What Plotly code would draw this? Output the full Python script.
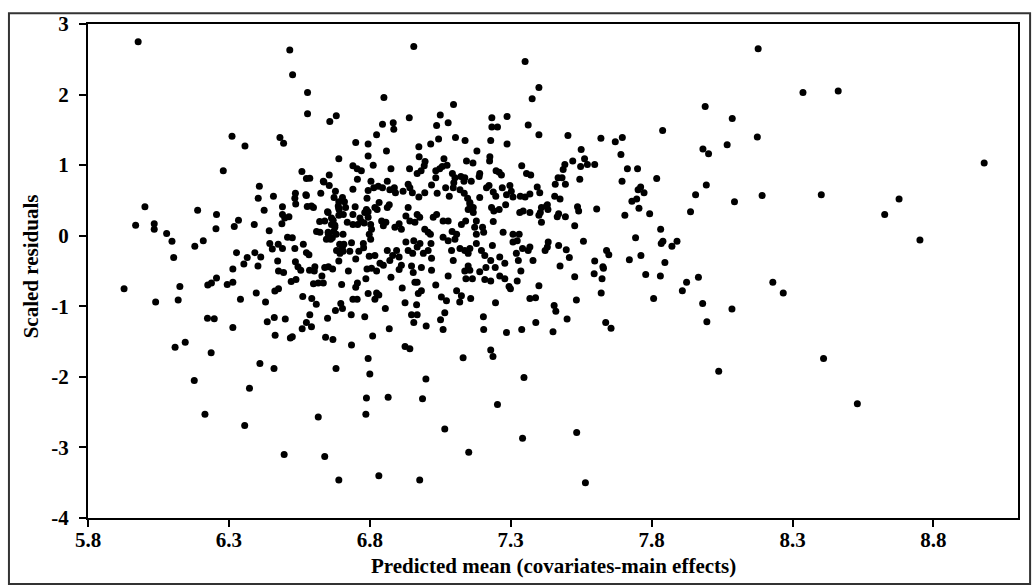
import plotly.graph_objects as go

# Predicted mean (x) and scaled residual (y) for each observation, grouped by area of the plot.
# Low predicted means (below about 6.8)
pred_low = [
    5.978, 5.969, 6.002, 6.035, 6.035, 6.079, 6.098, 6.179, 6.209, 6.189,
    6.256, 6.254, 6.28, 6.311, 6.357, 6.319, 6.334, 6.39, 6.408, 6.404,
    6.425, 6.443, 6.458, 6.481, 6.494, 6.516, 6.526, 6.579, 6.579, 6.658,
    6.681, 6.69, 6.75, 6.559, 6.575, 6.587, 6.536, 6.534, 6.537, 6.49,
    6.49, 6.498, 6.513, 6.488, 6.508, 6.525, 6.575, 6.578, 6.60, 6.626,
    6.637, 6.656, 6.656, 6.678, 6.673, 6.69, 6.71, 6.69, 6.652, 6.74,
    6.755, 6.77, 6.74, 6.756, 6.748, 6.74, 6.765, 6.611, 6.623, 6.445,
    6.454, 6.475, 6.49, 6.534, 6.564, 6.575, 6.584, 6.327, 6.365, 6.392,
    6.413, 6.473, 6.536, 6.646, 6.653, 6.672, 6.667, 6.681, 6.64, 6.67,
    6.69, 6.705, 6.70, 6.729, 6.708, 6.735, 6.761, 6.778, 6.75, 6.72,
    6.74, 6.757, 6.77, 6.78, 6.794, 6.79, 6.794, 6.794,
    5.928, 6.04, 6.12, 6.126, 6.104, 6.109, 6.145, 6.177, 6.215, 6.237,
    6.224, 6.248, 6.225, 6.238, 6.256, 6.294, 6.314, 6.314, 6.314, 6.341,
    6.353, 6.403, 6.397, 6.43, 6.436, 6.461, 6.464, 6.46, 6.41, 6.373,
    6.356, 6.496, 6.50, 6.463, 6.476, 6.476, 6.494, 6.521, 6.538, 6.545,
    6.555, 6.586, 6.603, 6.562, 6.594, 6.61, 6.587, 6.575, 6.593, 6.56,
    6.518, 6.525, 6.617, 6.64, 6.69, 6.643, 6.669, 6.68, 6.65, 6.678,
    6.697, 6.703, 6.734, 6.735, 6.74, 6.755, 6.70, 6.75, 6.756, 6.60,
    6.617, 6.635, 6.63, 6.64, 6.653, 6.668, 6.69, 6.724, 6.782, 6.794,
    6.794, 6.80, 6.788, 6.786, 6.786, 6.79,
    6.622, 6.664, 6.676, 6.693, 6.705, 6.635, 6.573, 6.703, 6.593, 6.65,
    6.664, 6.676, 6.652, 6.661, 6.688, 6.691, 6.706, 6.714, 6.782, 6.788,
    6.794, 6.605, 6.682, 6.703, 6.694, 6.777,
]
resid_low = [
    2.75, 0.15, 0.41, 0.17, 0.09, 0.03, -0.08, -0.15, -0.07, 0.36,
    0.30, 0.10, 0.92, 1.41, 1.27, 0.13, 0.22, 0.16, 0.70, 0.53,
    0.36, 0.07, 0.56, 1.39, 1.31, 2.63, 2.28, 2.03, 1.73, 1.62,
    1.70, 1.09, 1.32, 0.91, 0.81, 0.815, 0.60, 0.53, 0.45, 0.41,
    0.30, 0.25, 0.27, 0.17, -0.02, -0.03, 0.57, 0.415, 0.40, 0.60,
    0.76, 0.86, 0.71, 0.63, 0.54, 0.48, 0.48, 0.39, 0.33, 0.99,
    0.95, 0.92, 0.66, 0.80, 0.41, 0.30, 0.25, 0.06, 0.05, -0.11,
    -0.19, -0.12, -0.18, -0.18, -0.12, -0.24, -0.27, -0.24, -0.31, -0.24,
    -0.30, -0.36, -0.37, -0.05, 0.02, 0.06, -0.03, 0.02, 0.21, 0.22,
    0.29, 0.02, -0.19, -0.22, -0.12, -0.10, -0.22, -0.17, -0.33, 0.19,
    0.16, 0.16, 0.20, 0.18, 0.34, 0.53, 1.30, 1.13,
    -0.75, -0.94, -0.91, -0.72, -0.31, -1.58, -1.51, -2.05, -2.53, -1.66,
    -1.17, -1.175, -0.70, -0.67, -0.60, -0.69, -0.47, -0.66, -1.30, -0.90,
    -0.40, -0.43, -0.81, -0.94, -1.22, -1.16, -1.41, -1.88, -1.81, -2.16,
    -2.69, -3.10, -1.18, -0.785, -0.75, -0.50, -0.52, -0.65, -0.62, -0.44,
    -0.49, -0.49, -0.50, -0.86, -0.89, -0.97, -1.12, -1.23, -1.29, -1.32,
    -1.45, -1.43, -2.57, -3.13, -3.46, -1.44, -1.47, -1.88, -1.17, -1.06,
    -0.96, -1.03, -1.12, -1.55, -0.90, -0.90, -0.69, -0.73, -0.67, -0.68,
    -0.67, -0.67, -0.57, -0.45, -0.44, -0.47, -0.36, -0.50, -1.15, -0.82,
    -1.74, -1.96, -2.30, -2.53, -0.61, -0.47,
    0.20, 0.25, 0.15, -0.12, -0.22, 0.77, 0.58, 0.54, 0.42, 0.34,
    0.16, 0.12, 0.05, -0.05, 0.42, 0.37, 0.30, 0.40, 0.33, 0.37,
    0.26, -0.44, -0.21, -0.16, -0.25, -0.11,
]

# Central band, residuals above about -0.45
pred_mid_upper = [
    6.956, 7.351, 7.40, 7.376, 6.85, 7.097, 6.94, 7.05, 7.078, 7.037,
    6.845, 6.883, 6.885, 6.824, 7.233, 7.233, 7.253, 7.287, 7.362, 7.40,
    7.044, 7.104, 7.138, 7.229, 7.287, 6.859, 6.974, 7.016, 7.18, 7.226,
    7.225, 7.143, 7.166, 6.975, 6.996, 7.063, 7.074, 6.812, 6.875, 6.941,
    6.968, 6.982, 6.993, 7.034, 7.048, 7.057, 7.093, 7.102, 7.123, 7.137,
    7.134, 7.16, 7.19, 7.188, 7.248, 7.267, 7.259, 7.339, 7.356, 7.371,
    7.394, 7.368, 7.351, 7.403, 6.804, 6.794, 6.814, 6.83, 6.845, 6.862,
    6.871, 6.887, 6.891, 6.918, 6.936, 6.942, 6.951, 6.974, 6.995, 7.019,
    7.034, 7.039, 7.069, 7.082, 7.098, 7.096, 7.12, 7.135, 7.147, 7.155,
    7.167, 7.19, 7.214, 7.223, 7.238, 7.247, 7.27, 7.285, 7.297, 7.302,
    7.308, 7.334, 7.332, 7.344, 7.368, 7.405, 7.409, 7.427, 7.40, 7.409,
    6.803, 6.806, 6.798, 6.803, 6.818, 6.833, 6.826, 6.842, 6.857, 6.848,
    6.862, 6.869, 6.889, 6.904, 6.912, 6.928, 6.936, 6.942, 6.96, 6.968,
    6.977, 6.995, 7.007, 7.015, 7.025, 7.037, 7.06, 7.078, 7.092, 7.108,
    7.102, 7.125, 7.14, 7.155, 7.167, 7.149, 7.178, 7.172, 7.178, 7.20,
    7.204, 7.232, 7.24, 7.259, 7.282, 7.238, 7.273, 7.308, 7.323, 7.33,
    7.308, 7.342, 7.362, 7.368, 7.422, 7.433, 6.798, 6.818, 6.836, 6.848,
    6.862, 6.871, 6.881, 6.895, 6.904, 6.912, 6.928, 6.936, 6.952, 6.956,
    6.968, 6.978, 6.99, 7.007, 7.017, 7.019, 7.06, 7.078, 7.09, 7.096,
    7.12, 7.137, 7.149, 7.155, 7.178, 7.196, 7.208, 7.229, 7.235, 7.261,
    7.279, 7.32, 7.327, 7.379,
]
resid_mid_upper = [
    2.68, 2.47, 2.10, 1.94, 1.96, 1.86, 1.67, 1.71, 1.60, 1.56,
    1.58, 1.60, 1.51, 1.43, 1.67, 1.54, 1.54, 1.69, 1.57, 1.43,
    1.37, 1.39, 1.35, 1.35, 1.30, 1.20, 1.26, 1.30, 1.20, 1.12,
    1.06, 1.06, 1.03, 1.12, 1.05, 1.09, 1.00, 1.00, 0.95, 0.95,
    0.88, 0.92, 0.99, 0.92, 0.95, 0.98, 0.88, 0.82, 0.84, 0.82,
    0.77, 0.77, 0.88, 0.84, 0.92, 0.86, 0.90, 0.99, 0.88, 0.86,
    0.69, 0.59, 0.55, 0.61, 0.77, 0.64, 0.68, 0.70, 0.68, 0.77,
    0.65, 0.68, 0.61, 0.63, 0.73, 0.68, 0.61, 0.55, 0.61, 0.72,
    0.82, 0.60, 0.68, 0.56, 0.75, 0.68, 0.65, 0.60, 0.53, 0.47,
    0.40, 0.54, 0.68, 0.71, 0.62, 0.56, 0.68, 0.58, 0.71, 0.63,
    0.55, 0.56, 0.33, 0.35, 0.33, 0.33, 0.40, 0.42, 0.29, 0.19,
    0.16, 0.09, 0.02, -0.05, 0.40, 0.47, 0.37, 0.21, 0.19, 0.14,
    0.40, 0.44, 0.12, 0.17, 0.09, 0.28, 0.40, 0.21, 0.19, 0.30,
    0.26, 0.09, 0.05, 0.02, 0.26, 0.30, 0.21, 0.21, 0.06, 0.02,
    -0.05, 0.16, 0.21, 0.45, 0.33, 0.37, 0.21, 0.12, 0.02, 0.12,
    0.05, 0.40, 0.35, 0.37, 0.44, 0.20, 0.05, 0.02, -0.07, 0.02,
    -0.09, -0.18, -0.21, -0.16, -0.21, -0.09, -0.29, -0.28, -0.39, -0.42,
    -0.21, -0.35, -0.28, -0.21, -0.30, -0.42, -0.09, -0.21, -0.25, -0.07,
    -0.16, -0.11, -0.25, -0.21, -0.11, -0.32, -0.02, -0.07, -0.21, -0.35,
    -0.18, -0.21, -0.25, -0.18, -0.11, -0.21, -0.28, -0.35, -0.14, -0.30,
    -0.39, -0.25, -0.35, -0.35,
]

# Central band, residuals below about -0.45
pred_mid_lower = [
    6.824, 6.832, 6.818, 6.824, 6.806, 6.81, 6.832, 6.869, 6.865, 6.855,
    6.875, 6.904, 6.915, 6.925, 6.925, 6.942, 6.948, 6.968, 6.956, 6.966,
    6.954, 6.96, 6.968, 6.972, 6.983, 6.948, 6.983, 7.019, 6.999, 6.987,
    6.977, 7.00, 7.034, 7.054, 7.072, 7.078, 7.066, 7.051, 7.06, 7.066,
    7.108, 7.125, 7.119, 7.137, 7.155, 7.141, 7.164, 7.149, 7.19, 7.212,
    7.208, 7.229, 7.158, 7.131, 7.151, 7.245, 7.261, 7.279, 7.294, 7.299,
    7.323, 7.336, 7.246, 7.203, 7.204, 7.229, 7.237, 7.253, 7.285, 7.339,
    7.347, 7.342, 7.368, 7.388, 7.389, 7.40,
]
resid_mid_lower = [
    -0.81, -0.84, -0.90, -0.50, -0.46, -1.42, -3.40, -1.32, -2.29, -1.03,
    -0.59, -0.48, -0.74, -0.95, -1.57, -1.60, -1.12, -1.12, -1.23, -0.98,
    -0.52, -0.66, -0.66, -0.82, -0.78, -0.43, -0.45, -0.49, -2.03, -2.31,
    -3.46, -1.28, -0.70, -0.87, -0.92, -0.57, -1.09, -1.19, -1.33, -2.74,
    -0.78, -0.85, -0.94, -0.50, -0.49, -0.61, -0.61, -0.43, -0.51, -0.45,
    -0.62, -0.64, -0.89, -1.73, -3.07, -0.45, -0.57, -0.61, -0.72, -0.75,
    -0.64, -0.50, -0.95, -1.15, -1.33, -1.62, -1.71, -2.39, -1.37, -1.33,
    -2.01, -2.87, -0.89, -0.88, -1.23, -0.71,
]

# High predicted means (above about 7.42)
pred_high = [
    8.178, 7.99, 8.086, 7.839, 8.175, 7.982, 8.002, 8.068, 7.994, 7.956,
    8.094, 8.192, 7.938, 7.503, 7.62, 7.671, 7.696, 7.55, 7.691, 7.52,
    7.492, 7.486, 7.562, 7.572, 7.548, 7.598, 7.714, 7.75, 7.545, 7.468,
    7.482, 7.458, 7.494, 7.695, 7.818, 7.752, 7.761, 7.773, 7.747, 7.73,
    7.456, 7.475, 7.43, 7.432, 7.537, 7.541, 7.605, 7.47, 7.465, 7.494,
    7.755, 7.705, 7.793, 7.527, 7.832, 7.743, 7.558, 7.834, 7.84, 7.872,
    7.89, 7.43, 7.47, 7.497, 7.508, 7.64, 7.648, 7.762, 7.721, 7.598,
    7.627, 7.475, 7.847, 7.527, 7.596, 7.624, 7.629, 7.779, 7.831, 7.924,
    7.909, 7.966, 8.23, 8.267, 7.807, 7.981, 7.996, 8.085, 7.621, 7.533,
    7.454, 7.46, 7.50, 7.45, 7.637, 7.656, 8.038, 7.534, 7.565,
    8.337, 8.462, 8.98, 8.402, 8.678, 8.627, 8.752, 8.41, 8.53,
]
resid_high = [
    2.65, 1.83, 1.66, 1.49, 1.40, 1.23, 1.16, 1.29, 0.72, 0.58,
    0.48, 0.57, 0.34, 1.42, 1.38, 1.33, 1.39, 1.22, 1.15, 1.06,
    1.01, 0.94, 1.09, 1.01, 0.98, 1.01, 0.95, 0.95, 0.80, 0.82,
    0.82, 0.73, 0.73, 0.77, 0.81, 0.65, 0.69, 0.61, 0.52, 0.49,
    0.56, 0.52, 0.44, 0.37, 0.41, 0.35, 0.38, 0.31, 0.27, 0.27,
    0.39, 0.29, 0.31, 0.14, 0.09, -0.03, -0.08, -0.11, -0.08, -0.15,
    -0.08, -0.16, -0.14, -0.20, -0.31, -0.21, -0.27, -0.28, -0.34, -0.36,
    -0.44, -0.43, -0.38, -0.58, -0.54, -0.61, -0.46, -0.55, -0.57, -0.66,
    -0.78, -0.59, -0.66, -0.81, -0.89, -0.96, -1.22, -1.04, -0.81, -0.91,
    -0.99, -1.07, -1.18, -1.36, -1.23, -1.31, -1.92, -2.79, -3.50,
    2.03, 2.05, 1.03, 0.58, 0.52, 0.30, -0.06, -1.74, -2.38,
]

x_ticks = [5.8, 6.3, 6.8, 7.3, 7.8, 8.3, 8.8]
y_ticks = [-4, -3, -2, -1, 0, 1, 2, 3]

pred_all = pred_low + pred_mid_upper + pred_mid_lower + pred_high
resid_all = resid_low + resid_mid_upper + resid_mid_lower + resid_high

FONT = "Liberation Serif, Times New Roman, serif"
TEXT_SIZE = 21

fig = go.Figure(
    go.Scatter(
        x=pred_all,
        y=resid_all,
        mode="markers",
        marker=dict(color="black", size=7, line=dict(width=0)),
        hoverinfo="x+y",
    )
)

axis_common = dict(
    showline=True,
    linecolor="black",
    linewidth=2,
    mirror=True,
    ticks="outside",
    ticklen=7,
    tickwidth=2,
    tickcolor="black",
    showgrid=False,
    zeroline=False,
    tickfont=dict(family=FONT, size=TEXT_SIZE, color="black"),
)

fig.update_xaxes(
    range=[5.8, 9.1],
    tickvals=x_ticks,
    ticktext=[f"<b>{v:.1f}</b>" for v in x_ticks],
    ticklabelstandoff=-5,
    **axis_common,
)
fig.update_yaxes(
    range=[-4, 3],
    tickvals=y_ticks,
    ticktext=[f"<b>{v}</b>" for v in y_ticks],
    ticklabelstandoff=6,
    **axis_common,
)

fig.update_layout(
    width=1035,
    height=588,
    margin=dict(l=88, r=17, t=16, b=70),
    paper_bgcolor="white",
    plot_bgcolor="white",
    showlegend=False,
    annotations=[
        dict(
            text="<b>Predicted mean (covariates-main effects)</b>",
            xref="paper", yref="paper",
            x=0.5, y=-0.098,
            xanchor="center", yanchor="middle",
            showarrow=False,
            font=dict(family=FONT, size=TEXT_SIZE, color="black"),
        ),
        dict(
            text="<b>Scaled residuals</b>",
            xref="paper", yref="paper",
            x=-0.061, y=0.51,
            xanchor="center", yanchor="middle",
            textangle=-90,
            showarrow=False,
            font=dict(family=FONT, size=TEXT_SIZE, color="black"),
        ),
    ],
    shapes=[
        dict(
            type="rect",
            xref="paper", yref="paper",
            x0=-0.085, x1=1.013, y0=-0.1335, y1=1.022,
            line=dict(color="#333333", width=2),
            fillcolor="rgba(0,0,0,0)",
            layer="below",
        )
    ],
)

fig.write_html("out.html")
